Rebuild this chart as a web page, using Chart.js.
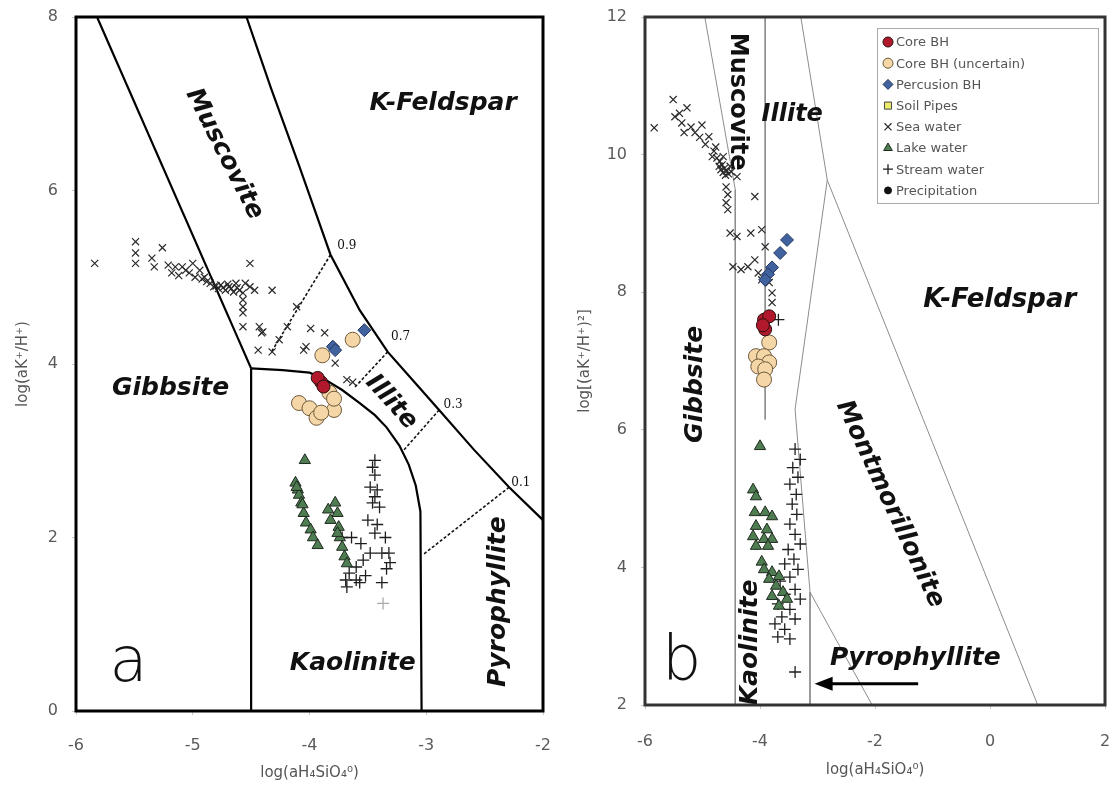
<!DOCTYPE html>
<html>
<head>
<meta charset="utf-8">
<script src="https://cdn.jsdelivr.net/npm/chart.js@4.4.1/dist/chart.umd.min.js"></script>
<style>
  html, body { margin: 0; padding: 0; background: #fff; }
  body { width: 1115px; height: 787px; position: relative; overflow: hidden; }
  canvas { position: absolute; top: 0; }
</style>
</head>
<body>
<canvas id="panelA" width="560" height="787" style="left:0px"></canvas>
<canvas id="panelB" width="555" height="787" style="left:560px"></canvas>
<script>
// ---------- Axis tick values ----------
const xTicksA = [-6, -5, -4, -3, -2];
const yTicksA = [0, 2, 4, 6, 8];
const xTicksB = [-6, -4, -2, 0, 2];
const yTicksB = [2, 4, 6, 8, 10, 12];

// ---------- Panel a: sample compositions [log aH4SiO4, log(aK/aH)] ----------
const seaWaterA = [
  [-5.84,5.16],[-5.49,5.41],[-5.49,5.28],[-5.49,5.16],[-5.35,5.22],[-5.26,5.34],[-5.33,5.12],
  [-5.21,5.14],[-5.15,5.12],[-5.09,5.12],[-5.06,5.08],[-5.00,5.16],[-4.94,5.08],[-4.90,5.00],
  [-4.85,4.93],[-4.82,4.89],[-4.76,4.91],[-4.69,4.89],[-4.63,4.93],[-4.51,5.16],[-4.55,4.93],
  [-4.51,4.89],[-4.47,4.85],[-4.32,4.85],[-4.57,4.82],[-4.57,4.74],[-4.57,4.66],[-4.57,4.59],
  [-4.57,4.43],[-4.41,4.36],[-4.44,4.16],[-4.32,4.14],[-3.99,4.41],[-3.87,4.36],[-4.05,4.16],
  [-3.78,4.01],[-3.68,3.82],[-4.80,4.90],[-4.78,4.87],[-4.74,4.88],[-4.72,4.85],[-4.70,4.92],
  [-4.67,4.87],[-4.65,4.83],[-4.62,4.88],[-4.60,4.85],[-5.18,5.05],[-5.12,5.02],[-5.03,5.05],
  [-4.98,5.00],[-4.92,4.98],[-4.88,4.95],[-4.11,4.66],[-4.19,4.43],[-4.26,4.28],[-4.03,4.20],
  [-4.43,4.43],[-4.40,4.37],[-3.63,3.79]
];
const coreBhA = [[-3.90,3.79],[-3.93,3.84],[-3.88,3.74]];
const coreBhUncertainA = [
  [-3.63,4.28],[-3.89,4.10],[-3.83,3.67],[-3.79,3.47],[-4.09,3.55],[-4.00,3.49],
  [-3.94,3.38],[-3.90,3.44],[-3.79,3.60]
];
const percussionBhA = [[-3.53,4.39],[-3.80,4.20],[-3.78,4.16]];
const lakeWaterA = [
  [-4.04,2.89],[-4.12,2.63],[-4.10,2.55],[-4.09,2.49],[-4.11,2.58],[-4.07,2.40],[-4.05,2.28],
  [-4.03,2.17],[-3.99,2.09],[-3.97,2.00],[-3.93,1.91],[-4.06,2.38],
  [-3.84,2.32],[-3.78,2.40],[-3.76,2.28],[-3.82,2.20],[-3.75,2.12],[-3.74,2.00],[-3.72,1.89],
  [-3.70,1.78],[-3.68,1.70],[-3.76,2.05]
];
const streamWaterA = [
  [-3.44,2.89],[-3.46,2.81],[-3.44,2.72],[-3.48,2.58],[-3.42,2.55],[-3.44,2.47],[-3.46,2.40],
  [-3.40,2.35],[-3.72,2.00],[-3.64,2.00],[-3.56,1.93],[-3.44,2.05],[-3.35,2.00],[-3.32,1.82],
  [-3.38,1.82],[-3.31,1.71],[-3.34,1.64],[-3.48,1.82],[-3.54,1.74],[-3.60,1.66],[-3.66,1.59],
  [-3.69,1.51],[-3.60,1.51],[-3.57,1.48],[-3.52,1.56],[-3.38,1.48],[-3.68,1.43],[-3.50,2.20],
  [-3.42,2.15]
];
const streamWaterFaintA = [[-3.37,1.24]];

// ---------- Panel a: stability field boundaries ----------
const gibbsiteMuscoviteA = [[-5.82,8.0],[-4.50,3.95]];
const gibbsiteKaoliniteA = [[-4.50,3.95],[-4.50,0.0]];
const kaoliniteUpperA = [
  [-4.50,3.95],[-4.23,3.93],[-4.00,3.90],[-3.89,3.84],[-3.72,3.70],[-3.57,3.55],[-3.44,3.41],
  [-3.34,3.27],[-3.23,3.06],[-3.15,2.84],[-3.09,2.60],[-3.05,2.30],[-3.04,0.0]
];
const muscoviteFeldsparA = [
  [-4.54,8.0],[-4.33,7.18],[-4.09,6.29],[-3.82,5.26],[-3.57,4.62],[-3.33,4.14],[-3.10,3.79],
  [-2.89,3.47],[-2.59,3.01],[-2.29,2.58],[-2.0,2.20]
];
const tieLine09 = [[-3.82,5.26],[-4.33,4.13]];
const tieLine07 = [[-3.33,4.14],[-3.62,3.72]];
const tieLine03 = [[-2.89,3.47],[-3.19,3.01]];
const tieLine01 = [[-2.29,2.58],[-3.03,1.80]];

// ---------- Panel b: sample compositions [log aH4SiO4, log((aK/aH)^2)] ----------
const seaWaterB = [
  [-5.84,10.39],[-5.51,10.80],[-5.27,10.68],[-5.48,10.55],[-5.36,10.46],[-5.01,10.43],
  [-5.13,10.32],[-4.89,10.26],[-5.32,10.32],[-4.77,10.11],[-4.64,9.97],[-4.83,9.97],
  [-4.71,9.83],[-4.64,9.74],[-4.52,9.83],[-4.40,9.68],[-4.59,9.53],[-4.56,9.42],
  [-4.59,9.30],[-4.56,9.20],[-4.09,9.39],[-4.52,8.86],[-4.40,8.81],[-4.16,8.86],
  [-3.97,8.91],[-3.91,8.66],[-4.47,8.37],[-4.33,8.33],[-4.21,8.37],[-4.09,8.47],
  [-4.03,8.28],[-3.97,8.18],[-3.84,8.14],[-3.79,7.99],[-3.79,7.85],
  [-4.75,9.95],[-4.70,9.90],[-4.66,9.85],[-4.62,9.80],[-4.58,9.76],[-4.68,9.78],
  [-4.60,9.70],[-4.55,9.72],[-4.50,9.75],[-4.95,10.15],[-5.05,10.25],[-5.20,10.40],
  [-5.40,10.60],[-4.80,10.05]
];
const coreBhB = [[-3.93,7.60],[-3.91,7.46],[-3.84,7.65],[-3.95,7.52]];
const coreBhUncertainB = [
  [-3.84,7.27],[-4.07,7.07],[-3.93,7.07],[-3.84,6.98],[-4.03,6.92],[-3.91,6.88],[-3.93,6.73]
];
const percussionBhB = [[-3.53,8.76],[-3.65,8.57],[-3.79,8.36],[-3.86,8.26],[-3.91,8.18]];
const lakeWaterB = [
  [-4.00,5.76],[-4.12,5.13],[-4.07,5.03],[-4.09,4.80],[-3.91,4.80],[-3.79,4.74],[-4.07,4.60],
  [-3.88,4.55],[-4.12,4.45],[-3.93,4.41],[-3.79,4.41],[-4.07,4.31],[-3.86,4.31],[-3.97,4.08],
  [-3.93,3.97],[-3.79,3.93],[-3.67,3.87],[-3.84,3.83],[-3.72,3.73],[-3.60,3.64],[-3.79,3.58],
  [-3.53,3.54],[-3.67,3.44]
];
const streamWaterB = [
  [-3.39,5.72],[-3.30,5.57],[-3.43,5.45],[-3.34,5.31],[-3.48,5.21],[-3.37,5.06],[-3.44,4.92],
  [-3.36,4.77],[-3.48,4.63],[-3.39,4.48],[-3.30,4.34],[-3.51,4.26],[-3.41,4.12],[-3.57,4.05],
  [-3.34,3.97],[-3.48,3.86],[-3.65,3.80],[-3.39,3.68],[-3.57,3.61],[-3.30,3.54],[-3.69,3.47],
  [-3.48,3.39],[-3.62,3.28],[-3.39,3.25],[-3.74,3.18],[-3.57,3.10],[-3.69,2.99],[-3.48,2.96],
  [-3.39,2.48],[-3.68,7.60]
];
const soilPipesB = [];
const precipitationB = [];

// ---------- Panel b: stability field boundaries ----------
const gibbsiteBoundaryB = [[-4.96,12.0],[-4.43,9.49],[-4.43,2.0]];
const muscoviteIlliteB = [[-3.91,12.0],[-3.91,6.15]];
const illiteFeldsparB = [[-3.29,12.0],[-2.83,9.63]];
const kaoliniteRightB = [[-2.83,9.63],[-3.39,6.30],[-3.13,3.64],[-3.13,2.0]];
const montmorilloniteFeldsparB = [[-2.83,9.63],[0.83,2.0]];
const pyrophylliteB = [[-3.13,3.64],[-2.05,2.0]];

// ---------- helpers ----------
const toPts = arr => arr.map(([x, y]) => ({ x, y }));
const FONT = "'DejaVu Sans', Verdana, sans-serif";

function markerSet(label, data, style) {
  return Object.assign({ label, data: toPts(data), showLine: false, order: 1 }, style);
}
function boundary(data, color, width, dash) {
  return {
    label: '', data: toPts(data), showLine: true, pointRadius: 0, pointHoverRadius: 0,
    borderColor: color, borderWidth: width, borderDash: dash || [], fill: false,
    tension: 0, order: 20, legendSkip: true
  };
}

const styles = {
  core:      { pointStyle: 'circle',   pointRadius: 6.5, backgroundColor: '#b2182b', borderColor: '#2a1010', pointBorderWidth: 1 },
  uncertain: { pointStyle: 'circle',   pointRadius: 7.5, backgroundColor: '#f5d6a6', borderColor: '#6e5a3c', pointBorderWidth: 1 },
  percussion:{ pointStyle: 'rectRot',  pointRadius: 6.5, backgroundColor: '#40629f', borderColor: '#26375e', pointBorderWidth: 1 },
  soil:      { pointStyle: 'rect',     pointRadius: 5.5, backgroundColor: '#ecea6a', borderColor: '#444',    pointBorderWidth: 1 },
  sea:       { pointStyle: 'crossRot', pointRadius: 5,   backgroundColor: '#2a2a2a', borderColor: '#2a2a2a', pointBorderWidth: 1.2 },
  lake:      { pointStyle: 'triangle', pointRadius: 6.5, backgroundColor: '#4f7d52', borderColor: '#1f2a1f', pointBorderWidth: 1 },
  stream:    { pointStyle: 'cross',    pointRadius: 6,   backgroundColor: '#1e1e1e', borderColor: '#1e1e1e', pointBorderWidth: 1.3 },
  precip:    { pointStyle: 'circle',   pointRadius: 3.5, backgroundColor: '#111',    borderColor: '#111',    pointBorderWidth: 1 }
};

// Draws region names, tie-line values, arrows and the plot frame
const annotatePlugin = {
  id: 'annotate',
  afterDatasetsDraw(chart, args, opts) {
    const { ctx, chartArea: a, scales: { x, y } } = chart;
    ctx.save();
    (opts.labels || []).forEach(l => {
      ctx.save();
      ctx.translate(x.getPixelForValue(l.x), y.getPixelForValue(l.y));
      ctx.rotate((l.rot || 0) * Math.PI / 180);
      ctx.font = l.font;
      ctx.fillStyle = l.color || '#111';
      ctx.textAlign = 'center';
      ctx.textBaseline = 'middle';
      ctx.fillText(l.text, 0, 0);
      ctx.restore();
    });
    (opts.arrows || []).forEach(ar => {
      const x0 = x.getPixelForValue(ar.from[0]), y0 = y.getPixelForValue(ar.from[1]);
      const x1 = x.getPixelForValue(ar.to[0]),   y1 = y.getPixelForValue(ar.to[1]);
      const ang = Math.atan2(y1 - y0, x1 - x0);
      ctx.strokeStyle = '#000'; ctx.fillStyle = '#000'; ctx.lineWidth = 3;
      ctx.beginPath(); ctx.moveTo(x0, y0);
      ctx.lineTo(x1 - 14 * Math.cos(ang), y1 - 14 * Math.sin(ang)); ctx.stroke();
      ctx.beginPath(); ctx.moveTo(x1, y1);
      ctx.lineTo(x1 - 18 * Math.cos(ang) + 7 * Math.sin(ang), y1 - 18 * Math.sin(ang) - 7 * Math.cos(ang));
      ctx.lineTo(x1 - 18 * Math.cos(ang) - 7 * Math.sin(ang), y1 - 18 * Math.sin(ang) + 7 * Math.cos(ang));
      ctx.closePath(); ctx.fill();
    });
    ctx.lineWidth = opts.frameWidth || 3;
    ctx.strokeStyle = opts.frameColor || '#000';
    ctx.strokeRect(a.left, a.top, a.right - a.left, a.bottom - a.top);
    ctx.restore();
  }
};

// Legend drawn inside the plot area of panel b
const insideLegendPlugin = {
  id: 'insideLegend',
  afterDraw(chart, args, opts) {
    if (!opts.display) return;
    const { ctx, chartArea: a } = chart;
    const bx = a.left + opts.left, by = a.top + opts.top;
    ctx.save();
    ctx.fillStyle = '#fff';
    ctx.fillRect(bx, by, opts.width, opts.height);
    ctx.strokeStyle = '#aaa'; ctx.lineWidth = 1;
    ctx.strokeRect(bx + 0.5, by + 0.5, opts.width, opts.height);
    const items = chart.data.datasets.filter(d => !d.legendSkip);
    items.forEach((d, i) => {
      const cy = by + opts.firstRow + i * opts.rowGap;
      const mx = bx + 11;
      ctx.fillStyle = d.backgroundColor; ctx.strokeStyle = d.borderColor;
      ctx.lineWidth = d.pointBorderWidth;
      Chart.helpers.drawPoint(ctx, {
        pointStyle: d.pointStyle, rotation: 0,
        radius: Math.min(d.pointRadius, 5), borderWidth: d.pointBorderWidth
      }, mx, cy);
      ctx.fillStyle = '#555';
      ctx.font = "13px " + FONT;
      ctx.textAlign = 'left'; ctx.textBaseline = 'middle';
      ctx.fillText(d.label, mx + 8, cy + 1);
    });
    ctx.restore();
  }
};

function axisOptions(min, max, tickValues, title, fixedSize, isX, tickPad, titlePad) {
  return {
    type: 'linear', min, max,
    afterBuildTicks: s => { s.ticks = tickValues.map(v => ({ value: v })); },
    afterFit: s => {
      if (isX) s.height = fixedSize; else s.width = fixedSize;
      // the plot margins come from the layout padding alone
      s.paddingLeft = 0; s.paddingRight = 0; s.paddingTop = 0; s.paddingBottom = 0;
    },
    border: { display: false },
    grid: { drawOnChartArea: false, drawTicks: true, tickLength: 4, color: '#c8c8c8' },
    ticks: { color: '#5a5a5a', font: { family: FONT, size: 16 }, padding: tickPad },
    title: { display: true, text: title, color: '#555', font: { family: FONT, size: 15 }, padding: titlePad }
  };
}

const labelFont = "italic bold 25px " + FONT;
const tieFont = "12px 'DejaVu Serif', serif";

// ---------- Panel a ----------
new Chart(document.getElementById('panelA'), {
  type: 'scatter',
  data: {
    datasets: [
      markerSet('Core BH', coreBhA, styles.core),
      markerSet('Core BH (uncertain)', coreBhUncertainA, styles.uncertain),
      markerSet('Percusion BH', percussionBhA, styles.percussion),
      markerSet('Sea water', seaWaterA, styles.sea),
      markerSet('Lake water', lakeWaterA, styles.lake),
      markerSet('Stream water', streamWaterA, styles.stream),
      markerSet('Stream water', streamWaterFaintA, Object.assign({}, styles.stream, { borderColor: '#aaa' })),
      boundary(gibbsiteMuscoviteA, '#000', 2.2),
      boundary(gibbsiteKaoliniteA, '#000', 2.2),
      boundary(kaoliniteUpperA, '#000', 2.2),
      boundary(muscoviteFeldsparA, '#000', 2.2),
      boundary(tieLine09, '#111', 1.6, [3, 2]),
      boundary(tieLine07, '#111', 1.6, [3, 2]),
      boundary(tieLine03, '#111', 1.6, [3, 2]),
      boundary(tieLine01, '#111', 1.6, [3, 2])
    ]
  },
  options: {
    responsive: false, animation: false, devicePixelRatio: 1,
    layout: { padding: { left: 0, top: 17, right: 17, bottom: 0 } },
    scales: {
      x: axisOptions(-6, -2, xTicksA, 'log(aH\u2084SiO\u2084\u2070)', 76, true, 21, { top: 4, bottom: 5 }),
      y: axisOptions(0, 8, yTicksA, 'log(aK\u207A/H\u207A)', 76, false, 14, { top: 14, bottom: 4 })
    },
    plugins: {
      legend: { display: false }, tooltip: { enabled: false },
      annotate: {
        frameWidth: 3, frameColor: '#000',
        labels: [
          { text: 'K-Feldspar', x: -2.855, y: 7.0, font: labelFont },
          { text: 'Muscovite', x: -4.73, y: 6.42, rot: 63, font: labelFont },
          { text: 'Gibbsite', x: -5.19, y: 3.72, font: labelFont },
          { text: 'Illite', x: -3.30, y: 3.56, rot: 48, font: labelFont },
          { text: 'Kaolinite', x: -3.63, y: 0.55, font: labelFont },
          { text: 'Pyrophyllite', x: -2.38, y: 1.26, rot: -90, font: labelFont },
          { text: 'a', x: -5.55, y: 0.53, font: "300 62px " + FONT },
          { text: '0.9', x: -3.68, y: 5.36, font: tieFont },
          { text: '0.7', x: -3.22, y: 4.31, font: tieFont },
          { text: '0.3', x: -2.77, y: 3.53, font: tieFont },
          { text: '0.1', x: -2.19, y: 2.63, font: tieFont }
        ]
      }
    }
  },
  plugins: [annotatePlugin]
});

// ---------- Panel b ----------
const thin = '#8c8c8c';
new Chart(document.getElementById('panelB'), {
  type: 'scatter',
  data: {
    datasets: [
      markerSet('Core BH', coreBhB, styles.core),
      markerSet('Core BH (uncertain)', coreBhUncertainB, styles.uncertain),
      markerSet('Percusion BH', percussionBhB, styles.percussion),
      markerSet('Soil Pipes', soilPipesB, styles.soil),
      markerSet('Sea water', seaWaterB, styles.sea),
      markerSet('Lake water', lakeWaterB, styles.lake),
      markerSet('Stream water', streamWaterB, styles.stream),
      markerSet('Precipitation', precipitationB, styles.precip),
      boundary(gibbsiteBoundaryB, thin, 1),
      boundary(muscoviteIlliteB, thin, 1),
      boundary(illiteFeldsparB, thin, 1),
      boundary(kaoliniteRightB, thin, 1),
      boundary(montmorilloniteFeldsparB, thin, 1),
      boundary(pyrophylliteB, thin, 1)
    ]
  },
  options: {
    responsive: false, animation: false, devicePixelRatio: 1,
    layout: { padding: { left: 0, top: 17, right: 10, bottom: 0 } },
    scales: {
      x: axisOptions(-6, 2, xTicksB, 'log(aH\u2084SiO\u2084\u2070)', 82, true, 23, { top: 4, bottom: 8 }),
      y: axisOptions(2, 12, yTicksB, 'log[(aK\u207A/H\u207A)\u00B2]', 85, false, 14, { top: 16, bottom: 4 })
    },
    plugins: {
      legend: { display: false }, tooltip: { enabled: false },
      insideLegend: { display: true, left: 232, top: 11, width: 221, height: 175, firstRow: 14, rowGap: 21.2 },
      annotate: {
        frameWidth: 3, frameColor: '#333',
        labels: [
          { text: 'Muscovite', x: -4.40, y: 10.77, rot: 90, font: "bold 24px " + FONT },
          { text: 'Illite', x: -3.44, y: 10.58, font: "italic bold 24px " + FONT },
          { text: 'K-Feldspar', x: 0.17, y: 7.89, font: "italic bold 26px " + FONT },
          { text: 'Gibbsite', x: -5.13, y: 6.66, rot: -90, font: labelFont },
          { text: 'Montmorillonite', x: -1.74, y: 4.92, rot: 65, font: labelFont },
          { text: 'Kaolinite', x: -4.16, y: 2.91, rot: -90, font: labelFont },
          { text: 'Pyrophyllite', x: -1.30, y: 2.67, font: labelFont },
          { text: 'b', x: -5.36, y: 2.61, font: "300 62px " + FONT }
        ],
        arrows: [ { from: [-1.25, 2.31], to: [-3.05, 2.31] } ]
      }
    }
  },
  plugins: [annotatePlugin, insideLegendPlugin]
});
</script>
</body>
</html>
